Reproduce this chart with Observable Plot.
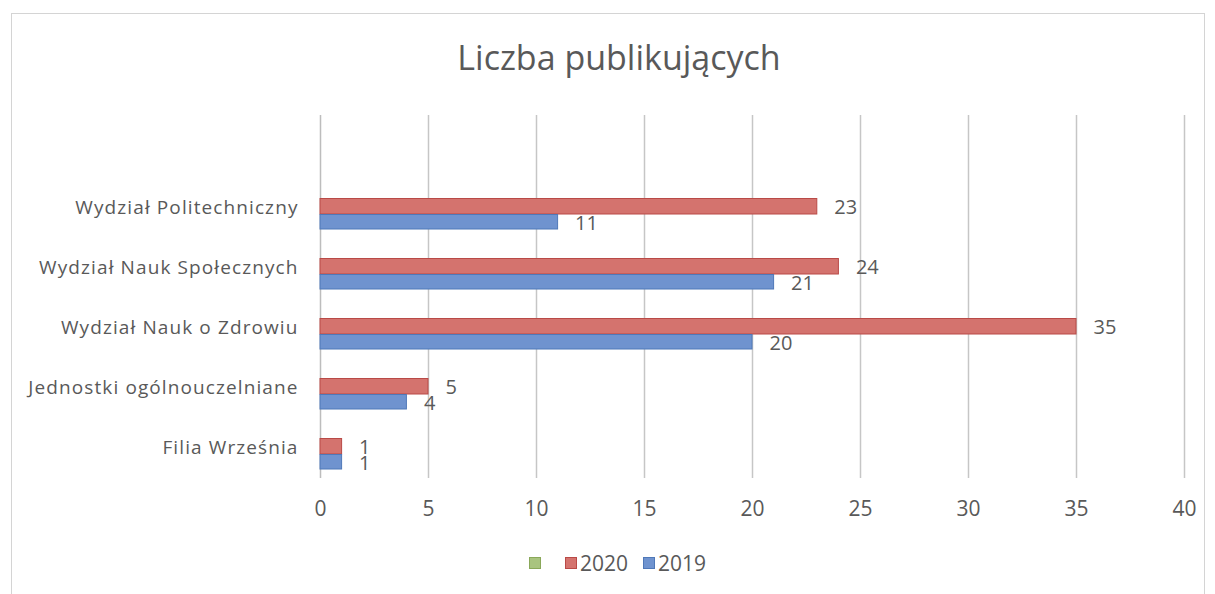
<!DOCTYPE html>
<html><head><meta charset="utf-8">
<script src="https://cdn.jsdelivr.net/npm/d3@7"></script>
<script src="https://cdn.jsdelivr.net/npm/@observablehq/plot@0.6"></script>
<style>
body{margin:0;background:#fff;font-family:"Open Sans",sans-serif;}
#wrap{position:relative;width:1215px;height:594px;overflow:hidden;}
#frame{position:absolute;left:11px;top:13px;width:1194px;height:600px;border:1px solid #d4d4d4;box-sizing:border-box;}
#title{position:absolute;left:0;width:1238px;top:37px;text-align:center;font-size:34px;color:#595959;line-height:1.2;}
#chart{position:absolute;left:0;top:0;}
#legend{position:absolute;left:529px;top:549px;font-size:21px;color:#595959;display:flex;align-items:center;height:28px;}
#legend span.sw{display:inline-block;width:10px;height:10px;border:1px solid;}
</style></head>
<body><div id="wrap"><div id="frame"></div><div id="title">Liczba publikujących</div><div id="chart"></div><div id="legend"></div></div>
<script>
const categories = ["Wydział Politechniczny","Wydział Nauk Społecznych","Wydział Nauk o Zdrowiu","Jednostki ogólnouczelniane","Filia Września"];
const values2020 = [23,24,35,5,1];
const values2019 = [11,21,20,4,1];
const xTicks = [0,5,10,15,20,25,30,35,40];
const seriesNames = ["", "2020", "2019"];
const fills = ["#a9c47f","#d4736e","#6f93cf"];
const strokes = ["#8aa85a","#b94a47","#4f78b8"];

const d20 = categories.map((c,i)=>({cat:c, v:values2020[i]}));
const d19 = categories.map((c,i)=>({cat:c, v:values2019[i]}));
const labelColor = "#595959";

const plot = Plot.plot({
  width:1215, height:530,
  marginLeft:320, marginRight:31, marginTop:115, marginBottom:52,
  style:{fontFamily:"'Open Sans', sans-serif", fontSize:"19px", color:labelColor, background:"transparent"},
  x:{domain:[0,40], ticks:xTicks, tickSize:0, tickPadding:23, label:null},
  y:{domain:[" ", ...categories], padding:0, tickSize:0, tickPadding:22, label:null},
  marks:[
    Plot.ruleX(xTicks.slice(1), {stroke:"#c6c6c6", strokeWidth:1.5}),
    Plot.ruleX([0], {stroke:"#bdbdbd", strokeWidth:1.5}),
    Plot.barX(d20, {x:"v", y:"cat", fill:fills[1], stroke:strokes[1], strokeWidth:1, insetTop:21.5, insetBottom:23}),
    Plot.barX(d19, {x:"v", y:"cat", fill:fills[2], stroke:strokes[2], strokeWidth:1, insetTop:37.5, insetBottom:8}),
    Plot.text(d20, {x:"v", y:"cat", text:d=>String(d.v), dx:17, dy:0, textAnchor:"start", fill:labelColor, fontSize:20}),
    Plot.text(d19, {x:"v", y:"cat", text:d=>String(d.v), dx:17, dy:16, textAnchor:"start", fill:labelColor, fontSize:20})
  ]
});
plot.querySelectorAll('g[aria-label="y-axis tick label"] text').forEach(t=>t.setAttribute("letter-spacing","1.1"));
plot.querySelectorAll('g[aria-label="x-axis tick label"] text').forEach(t=>t.setAttribute("font-size","21"));
document.getElementById("chart").appendChild(plot);

const leg = document.getElementById("legend");
const gaps = [[0,24],[3,15],[3,0]];
seriesNames.forEach((s,i)=>{
  const sw = document.createElement("span");
  sw.className="sw"; sw.style.background=fills[i]; sw.style.borderColor=strokes[i];
  leg.appendChild(sw);
  const t = document.createElement("span"); t.textContent=s;
  t.style.marginLeft = gaps[i][0]+"px"; t.style.marginRight = gaps[i][1]+"px";
  leg.appendChild(t);
});
</script></body></html>
